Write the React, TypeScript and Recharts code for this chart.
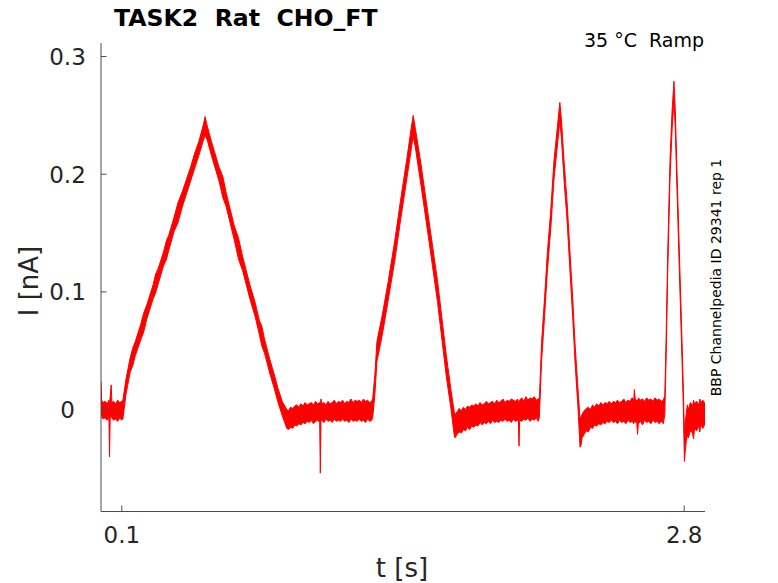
import { Area, ComposedChart, XAxis, YAxis } from "recharts";

// [t (s), lower (nA), upper (nA)] — noise envelope of the current trace
const preStep: [number, number, number][] = [
  [0, -0.004, 0.024],
  [0.003, -0.006, 0.008],
  [0.01, -0.008, 0.006],
  [0.02, -0.007, 0.007],
  [0.03, -0.009, 0.005],
  [0.038, -0.006, 0.008],
  [0.041, -0.04, 0.004],
  [0.044, -0.008, 0.011],
  [0.049, -0.005, 0.021],
  [0.052, -0.007, 0.006],
  [0.06, -0.009, 0.007],
  [0.07, -0.008, 0.005],
  [0.08, -0.01, 0.008],
  [0.09, -0.007, 0.006],
  [0.1, -0.009, 0.007],
];

const ramp1: [number, number, number][] = [
  [0.105, -0.008, 0.008],
  [0.12, 0.013, 0.026],
  [0.14, 0.032, 0.044],
  [0.152, 0.037, 0.052],
  [0.165, 0.046, 0.058],
  [0.19, 0.059, 0.072],
  [0.205, 0.066, 0.082],
  [0.22, 0.077, 0.089],
  [0.25, 0.094, 0.106],
  [0.262, 0.099, 0.115],
  [0.275, 0.107, 0.12],
  [0.3, 0.122, 0.134],
  [0.315, 0.128, 0.144],
  [0.325, 0.135, 0.148],
  [0.35, 0.151, 0.163],
  [0.37, 0.159, 0.176],
  [0.39, 0.172, 0.185],
  [0.43, 0.194, 0.206],
  [0.45, 0.205, 0.218],
  [0.47, 0.216, 0.228],
  [0.49, 0.228, 0.241],
  [0.5, 0.233, 0.249],
  [0.51, 0.229, 0.241],
  [0.53, 0.216, 0.228],
  [0.567, 0.194, 0.206],
  [0.585, 0.18, 0.198],
  [0.6, 0.173, 0.185],
  [0.64, 0.144, 0.156],
  [0.66, 0.128, 0.146],
  [0.68, 0.118, 0.13],
  [0.715, 0.094, 0.106],
  [0.74, 0.079, 0.091],
  [0.76, 0.064, 0.076],
  [0.772, 0.054, 0.071],
  [0.785, 0.048, 0.06],
  [0.81, 0.031, 0.043],
  [0.83, 0.019, 0.031],
  [0.85, 0.006, 0.018],
  [0.87, -0.005, 0.007],
  [0.892, -0.016, 0.0],
];

const rest1: [number, number, number][] = [
  [0.9, -0.017, -0.001],
  [0.91, -0.015, 0.002],
  [0.92, -0.016, 0.001],
  [0.93, -0.013, 0.003],
  [0.94, -0.014, 0.004],
  [0.95, -0.012, 0.002],
  [0.96, -0.013, 0.005],
  [0.97, -0.011, 0.003],
  [0.98, -0.012, 0.006],
  [0.99, -0.01, 0.004],
  [1.0, -0.011, 0.005],
  [1.01, -0.009, 0.006],
  [1.02, -0.012, 0.004],
  [1.03, -0.01, 0.007],
  [1.04, -0.009, 0.005],
  [1.05, -0.011, 0.006],
  [1.053, -0.054, 0.004],
  [1.056, -0.01, 0.009],
  [1.06, -0.009, 0.005],
  [1.07, -0.011, 0.006],
  [1.08, -0.008, 0.004],
  [1.09, -0.01, 0.007],
  [1.1, -0.009, 0.005],
  [1.11, -0.011, 0.006],
  [1.12, -0.008, 0.008],
  [1.13, -0.01, 0.005],
  [1.14, -0.009, 0.007],
  [1.15, -0.01, 0.006],
  [1.16, -0.008, 0.008],
  [1.17, -0.01, 0.005],
  [1.18, -0.009, 0.007],
  [1.19, -0.011, 0.006],
  [1.2, -0.008, 0.009],
  [1.21, -0.01, 0.006],
  [1.22, -0.009, 0.008],
  [1.23, -0.01, 0.007],
  [1.24, -0.008, 0.008],
  [1.25, -0.01, 0.006],
  [1.26, -0.009, 0.009],
  [1.27, -0.011, 0.007],
  [1.28, -0.008, 0.008],
  [1.29, -0.01, 0.006],
  [1.3, -0.009, 0.007],
];

const ramp2: [number, number, number][] = [
  [1.305, -0.006, 0.01],
  [1.315, 0.013, 0.03],
  [1.325, 0.041, 0.058],
  [1.35, 0.063, 0.08],
  [1.378, 0.092, 0.108],
  [1.41, 0.126, 0.143],
  [1.44, 0.163, 0.18],
  [1.47, 0.198, 0.215],
  [1.49, 0.222, 0.24],
  [1.499, 0.232, 0.25],
  [1.51, 0.222, 0.238],
  [1.536, 0.191, 0.209],
  [1.575, 0.143, 0.16],
  [1.616, 0.091, 0.109],
  [1.658, 0.028, 0.046],
  [1.68, 0.001, 0.017],
  [1.697, -0.023, -0.003],
];

const rest2: [number, number, number][] = [
  [1.7, -0.024, -0.004],
  [1.71, -0.021, -0.002],
  [1.72, -0.019, 0.001],
  [1.73, -0.02, -0.001],
  [1.74, -0.017, 0.002],
  [1.75, -0.018, 0.0],
  [1.76, -0.015, 0.003],
  [1.77, -0.017, 0.002],
  [1.78, -0.014, 0.004],
  [1.79, -0.015, 0.003],
  [1.8, -0.013, 0.005],
  [1.81, -0.014, 0.003],
  [1.82, -0.011, 0.006],
  [1.83, -0.013, 0.004],
  [1.84, -0.011, 0.005],
  [1.85, -0.012, 0.007],
  [1.86, -0.01, 0.005],
  [1.87, -0.012, 0.006],
  [1.88, -0.009, 0.007],
  [1.89, -0.011, 0.005],
  [1.9, -0.01, 0.008],
  [1.91, -0.011, 0.006],
  [1.92, -0.009, 0.007],
  [1.93, -0.01, 0.009],
  [1.94, -0.008, 0.006],
  [1.95, -0.01, 0.008],
  [1.96, -0.009, 0.007],
  [1.97, -0.011, 0.009],
  [1.98, -0.008, 0.008],
  [1.99, -0.01, 0.007],
  [2.0, -0.009, 0.009],
  [2.004, -0.01, 0.007],
  [2.007, -0.031, 0.006],
  [2.01, -0.009, 0.008],
  [2.02, -0.01, 0.01],
  [2.03, -0.008, 0.007],
  [2.04, -0.009, 0.011],
  [2.05, -0.007, 0.008],
  [2.06, -0.01, 0.01],
  [2.07, -0.008, 0.009],
  [2.08, -0.009, 0.011],
  [2.09, -0.007, 0.008],
  [2.1, -0.01, 0.009],
];

const ramp3: [number, number, number][] = [
  [2.105, -0.006, 0.01],
  [2.115, 0.04, 0.056],
  [2.13, 0.08, 0.096],
  [2.143, 0.117, 0.133],
  [2.16, 0.155, 0.171],
  [2.175, 0.196, 0.212],
  [2.19, 0.222, 0.238],
  [2.203, 0.245, 0.261],
  [2.21, 0.232, 0.248],
  [2.223, 0.196, 0.212],
  [2.238, 0.16, 0.176],
  [2.252, 0.117, 0.133],
  [2.265, 0.078, 0.094],
  [2.276, 0.04, 0.056],
  [2.29, 0.002, 0.018],
  [2.3, -0.032, -0.008],
];

const rest3: [number, number, number][] = [
  [2.305, -0.03, -0.006],
  [2.31, -0.024, -0.004],
  [2.32, -0.021, -0.001],
  [2.33, -0.018, 0.001],
  [2.34, -0.019, 0.002],
  [2.35, -0.015, 0.0],
  [2.36, -0.016, 0.004],
  [2.37, -0.013, 0.002],
  [2.38, -0.014, 0.005],
  [2.39, -0.012, 0.003],
  [2.4, -0.013, 0.006],
  [2.41, -0.011, 0.004],
  [2.42, -0.012, 0.006],
  [2.43, -0.01, 0.005],
  [2.44, -0.011, 0.007],
  [2.45, -0.009, 0.005],
  [2.46, -0.011, 0.007],
  [2.47, -0.01, 0.006],
  [2.48, -0.012, 0.008],
  [2.49, -0.009, 0.006],
  [2.5, -0.011, 0.007],
  [2.51, -0.01, 0.009],
  [2.52, -0.012, 0.006],
  [2.53, -0.009, 0.008],
  [2.54, -0.011, 0.007],
  [2.55, -0.01, 0.01],
  [2.558, -0.012, 0.008],
  [2.561, -0.009, 0.017],
  [2.565, -0.011, 0.009],
  [2.572, -0.01, 0.008],
  [2.576, -0.021, 0.007],
  [2.58, -0.012, 0.01],
  [2.59, -0.01, 0.008],
  [2.6, -0.013, 0.009],
  [2.61, -0.009, 0.007],
  [2.62, -0.011, 0.01],
  [2.63, -0.01, 0.008],
  [2.64, -0.012, 0.009],
  [2.65, -0.009, 0.007],
  [2.66, -0.011, 0.01],
  [2.67, -0.01, 0.008],
  [2.68, -0.012, 0.009],
  [2.69, -0.01, 0.007],
  [2.7, -0.012, 0.008],
];

const ramp4: [number, number, number][] = [
  [2.707, -0.004, 0.012],
  [2.714, 0.05, 0.066],
  [2.721, 0.117, 0.133],
  [2.732, 0.196, 0.212],
  [2.742, 0.238, 0.254],
  [2.751, 0.262, 0.279],
  [2.757, 0.24, 0.256],
  [2.764, 0.196, 0.212],
  [2.777, 0.117, 0.133],
  [2.79, 0.04, 0.056],
  [2.796, 0.002, 0.018],
  [2.801, -0.044, -0.02],
];

const tail: [number, number, number][] = [
  [2.805, -0.036, -0.01],
  [2.81, -0.027, -0.004],
  [2.815, -0.022, 0.004],
  [2.82, -0.024, 0.0],
  [2.83, -0.018, 0.006],
  [2.84, -0.02, 0.003],
  [2.845, -0.025, 0.008],
  [2.85, -0.016, 0.005],
  [2.86, -0.018, 0.007],
  [2.87, -0.014, 0.004],
  [2.875, -0.019, 0.009],
  [2.88, -0.013, 0.006],
  [2.89, -0.016, 0.008],
  [2.9, -0.012, 0.005],
];

const xTicks = [0.1, 2.8];
const yTicks = [0, 0.1, 0.2, 0.3];

const data = [...preStep, ...ramp1, ...rest1, ...ramp2, ...rest2, ...ramp3, ...rest3, ...ramp4, ...tail].map(
  ([t, lo, hi]) => ({ t, band: [lo, hi] })
);

const FONT = "'DejaVu Sans', sans-serif";
const AXIS = "#4d4d4d";
const TEXT = "#262626";

const XTick = (props: any) => {
  const { x, y, payload } = props;
  return (
    <g>
      <line x1={x} y1={y} x2={x} y2={y - 6} stroke={AXIS} />
      <text x={x} y={y + 31} textAnchor="middle" fontSize={23} fontFamily={FONT} fill={TEXT}>
        {payload.value}
      </text>
    </g>
  );
};

const YTick = (props: any) => {
  const { x, y, payload } = props;
  return (
    <g>
      <line x1={x} y1={y} x2={x + 5.5} y2={y} stroke={AXIS} />
      <text x={x - 33.5} y={y + 8.3} textAnchor="middle" fontSize={23} fontFamily={FONT} fill={TEXT}>
        {payload.value}
      </text>
    </g>
  );
};

export default function App() {
  return (
    <div style={{ position: "relative", width: 778, height: 583, background: "#fff" }}>
      <style>{`body{margin:0}`}</style>
      <ComposedChart
        width={778}
        height={583}
        data={data}
        margin={{ top: 43, right: 73, bottom: 41.5, left: 0 }}
      >
        <XAxis
          dataKey="t"
          type="number"
          domain={[0, 2.9]}
          ticks={xTicks}
          interval={0}
          allowDataOverflow
          height={30}
          stroke={AXIS}
          tickSize={0}
          tickMargin={0}
          tickLine={false}
          tick={<XTick />}
        />
        <YAxis
          type="number"
          domain={[-0.0866, 0.3115]}
          ticks={yTicks}
          interval={0}
          allowDataOverflow
          width={101}
          stroke={AXIS}
          tickSize={0}
          tickMargin={0}
          tickLine={false}
          tick={<YTick />}
        />
        <Area
          type="linear"
          dataKey="band"
          stroke="#ff0000"
          strokeWidth={1}
          fill="#ff0000"
          fillOpacity={1}
          dot={false}
          activeDot={false}
          isAnimationActive={false}
        />
      </ComposedChart>
      <svg
        width={778}
        height={583}
        style={{ position: "absolute", left: 0, top: 0, pointerEvents: "none" }}
      >
        <text x={114} y={26} fontSize={23.6} fontWeight="bold" fontFamily={FONT} fill="#000" style={{ whiteSpace: "pre" }}>
          {"TASK2  Rat  CHO_FT"}
        </text>
        <text x={704} y={47} textAnchor="end" fontSize={19} fontFamily={FONT} fill="#000" style={{ whiteSpace: "pre" }}>
          {"35 °C  Ramp"}
        </text>
        <text
          x={720.5}
          y={277.5}
          textAnchor="middle"
          fontSize={14}
          fontFamily={FONT}
          fill="#000"
          transform="rotate(-90, 720.5, 277.5)"
        >
          BBP Channelpedia ID 29341 rep 1
        </text>
        <text
          x={38}
          y={281}
          textAnchor="middle"
          fontSize={26}
          fontFamily={FONT}
          fill={TEXT}
          transform="rotate(-90, 38, 281)"
        >
          I [nA]
        </text>
        <text x={402} y={577} textAnchor="middle" fontSize={26} fontFamily={FONT} fill={TEXT}>
          t [s]
        </text>
      </svg>
    </div>
  );
}
